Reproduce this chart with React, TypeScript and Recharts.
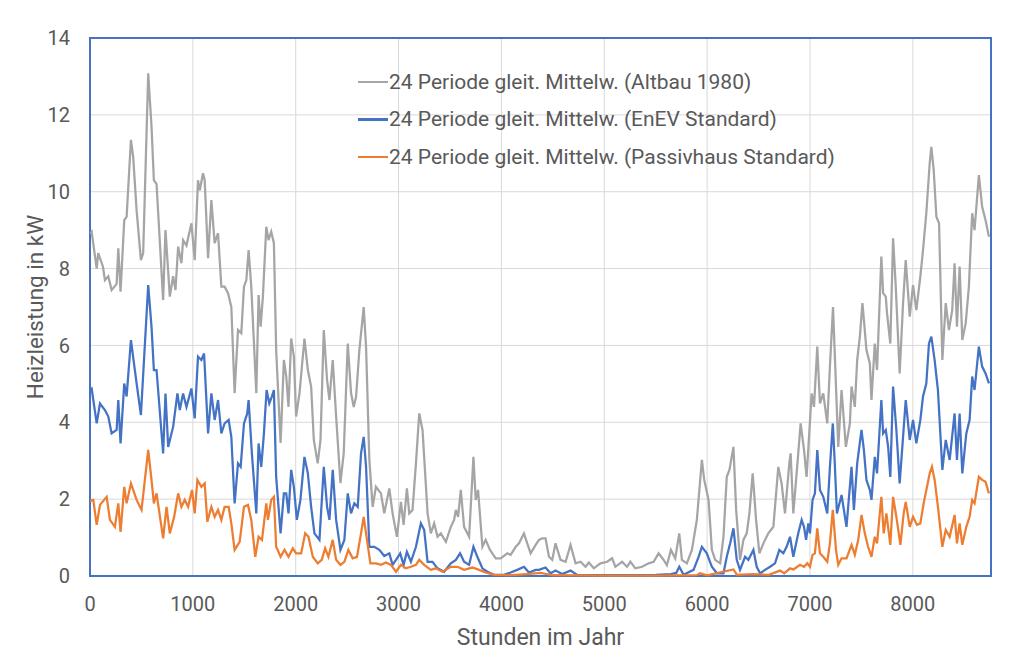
import React from 'react';
import { LineChart, Line, XAxis, YAxis, CartesianGrid, Legend, ReferenceArea } from 'recharts';

const altbau: [number, number][] = [
  [0, 8.9], [16, 8.96], [65, 8.0], [80, 8.4], [126, 8.05], [145, 7.7], [178, 7.8], [210, 7.44], [259, 7.6], [275, 8.53],
  [297, 7.4], [333, 9.26], [356, 9.35], [398, 11.35], [420, 10.9], [453, 9.52], [495, 8.22], [517, 8.4], [566, 13.08], [598, 11.7],
  [621, 10.3], [647, 10.2], [711, 7.18], [734, 9.0], [776, 7.27], [808, 7.8], [831, 7.44], [857, 8.57], [889, 8.14], [905, 8.74],
  [938, 8.6], [986, 9.18], [1018, 8.22], [1050, 10.3], [1067, 10.04], [1099, 10.48], [1115, 10.3], [1148, 8.27], [1180, 9.78], [1212, 8.66],
  [1245, 8.92], [1277, 7.53], [1309, 7.53], [1342, 7.36], [1374, 7.0], [1406, 4.76], [1439, 6.4], [1471, 6.32], [1497, 7.53], [1520, 7.7],
  [1542, 8.48], [1568, 7.53], [1617, 4.76], [1639, 7.31], [1659, 6.49], [1681, 7.27], [1714, 9.09], [1736, 8.74], [1762, 8.96], [1788, 8.66],
  [1810, 5.88], [1853, 3.46], [1885, 5.62], [1908, 5.19], [1930, 4.4], [1956, 6.18], [1982, 5.71], [2004, 4.15], [2037, 4.76], [2085, 6.18],
  [2118, 5.36], [2150, 4.93], [2176, 3.54], [2214, 2.93], [2241, 3.54], [2273, 6.4], [2305, 5.1], [2328, 4.58], [2360, 5.62], [2393, 4.15],
  [2435, 2.42], [2467, 3.2], [2506, 6.05], [2538, 4.76], [2564, 4.4], [2587, 4.67], [2619, 5.88], [2661, 7.0], [2684, 5.97], [2716, 3.02],
  [2748, 1.8], [2780, 2.32], [2829, 2.15], [2861, 1.63], [2910, 2.28], [2942, 1.63], [2984, 1.02], [3023, 1.93], [3049, 1.33], [3081, 2.28],
  [3104, 1.63], [3136, 1.72], [3169, 2.93], [3201, 4.23], [3233, 3.8], [3282, 1.63], [3314, 1.11], [3346, 1.37], [3379, 1.02], [3411, 1.11],
  [3460, 0.89], [3508, 1.28], [3540, 1.46], [3557, 1.72], [3579, 1.54], [3605, 2.24], [3637, 1.28], [3686, 1.02], [3728, 3.1], [3750, 1.98],
  [3773, 2.24], [3815, 0.76], [3847, 0.94], [3889, 0.68], [3945, 0.46], [3993, 0.46], [4057, 0.59], [4090, 0.55], [4139, 0.76], [4171, 0.85],
  [4219, 1.11], [4251, 0.85], [4284, 0.59], [4333, 0.81], [4365, 0.94], [4397, 0.98], [4429, 0.98], [4462, 0.5], [4494, 0.42], [4526, 0.85],
  [4575, 0.42], [4624, 0.37], [4672, 0.81], [4721, 0.33], [4769, 0.37], [4818, 0.24], [4850, 0.35], [4898, 0.2], [4963, 0.33], [5028, 0.37],
  [5076, 0.46], [5108, 0.24], [5173, 0.37], [5221, 0.24], [5254, 0.37], [5302, 0.2], [5367, 0.24], [5431, 0.33], [5480, 0.37], [5528, 0.59],
  [5577, 0.42], [5609, 0.28], [5648, 0.68], [5690, 0.46], [5729, 1.11], [5755, 0.42], [5803, 0.33], [5852, 0.68], [5900, 1.46], [5949, 3.02],
  [5972, 2.5], [6014, 1.98], [6046, 0.68], [6078, 0.42], [6127, 0.33], [6159, 1.02], [6191, 2.58], [6217, 2.76], [6256, 3.36], [6282, 1.72],
  [6320, 0.42], [6353, 0.94], [6385, 1.11], [6411, 1.63], [6443, 2.67], [6476, 1.46], [6508, 0.59], [6547, 0.85], [6595, 1.11], [6644, 1.28],
  [6692, 2.84], [6724, 2.41], [6757, 1.63], [6799, 2.93], [6812, 3.19], [6838, 1.63], [6886, 3.19], [6909, 3.97], [6942, 3.28], [6967, 2.58],
  [6993, 3.71], [7016, 4.75], [7039, 4.4], [7071, 5.97], [7097, 4.49], [7129, 4.75], [7168, 3.97], [7194, 5.45], [7224, 7.0], [7245, 5.5],
  [7275, 3.36], [7307, 4.84], [7349, 3.36], [7388, 3.97], [7404, 4.93], [7436, 4.4], [7459, 5.62], [7485, 6.23], [7510, 7.1], [7527, 6.58],
  [7549, 5.88], [7582, 5.53], [7598, 4.58], [7630, 6.05], [7652, 5.36], [7694, 8.31], [7711, 7.36], [7737, 7.27], [7749, 6.84], [7781, 6.05],
  [7808, 8.79], [7834, 7.53], [7872, 5.27], [7905, 7.1], [7931, 8.22], [7970, 6.75], [8002, 7.57], [8034, 6.92], [8073, 7.79], [8099, 8.48],
  [8131, 9.44], [8164, 10.74], [8180, 11.17], [8203, 10.56], [8229, 9.35], [8255, 9.18], [8287, 5.62], [8320, 7.1], [8351, 6.4], [8383, 6.92],
  [8406, 8.14], [8429, 6.49], [8455, 8.05], [8481, 6.14], [8514, 6.58], [8545, 7.53], [8577, 9.44], [8600, 9.0], [8642, 10.43], [8674, 9.61],
  [8707, 9.26], [8740, 8.83],
];

const enev: [number, number][] = [
  [0, 4.85], [16, 4.88], [65, 3.97], [97, 4.49], [145, 4.32], [178, 4.15], [210, 3.71], [259, 3.8], [275, 4.58], [297, 3.45],
  [333, 5.01], [356, 4.67], [398, 6.14], [453, 5.01], [495, 4.19], [566, 7.57], [598, 6.49], [621, 5.36], [647, 5.36], [711, 3.19],
  [734, 4.75], [760, 3.36], [808, 3.88], [850, 4.75], [873, 4.32], [905, 4.75], [938, 4.4], [986, 4.88], [1018, 4.1], [1050, 5.71],
  [1083, 5.62], [1109, 5.79], [1148, 3.71], [1180, 4.75], [1212, 4.06], [1245, 4.58], [1277, 3.71], [1309, 3.97], [1348, 4.06], [1374, 3.62],
  [1406, 1.89], [1439, 2.93], [1465, 2.84], [1497, 3.97], [1529, 4.23], [1542, 4.58], [1574, 3.19], [1617, 1.63], [1639, 3.45], [1665, 2.84],
  [1691, 3.71], [1717, 4.84], [1743, 4.49], [1768, 4.67], [1788, 4.84], [1810, 2.58], [1853, 1.11], [1885, 2.15], [1908, 2.15], [1930, 1.63],
  [1956, 2.76], [1982, 2.32], [2011, 1.46], [2046, 1.98], [2085, 3.1], [2118, 2.67], [2150, 1.8], [2182, 1.11], [2231, 0.94], [2273, 2.84],
  [2305, 1.8], [2328, 1.46], [2360, 2.76], [2393, 1.46], [2435, 0.68], [2473, 0.94], [2506, 2.15], [2538, 1.63], [2570, 1.89], [2603, 1.8],
  [2635, 3.19], [2661, 3.62], [2684, 2.84], [2716, 0.76], [2764, 0.76], [2813, 0.68], [2861, 0.52], [2910, 0.59], [2942, 0.29], [2975, 0.42],
  [3016, 0.59], [3049, 0.29], [3081, 0.63], [3120, 0.37], [3169, 0.76], [3217, 1.37], [3249, 1.2], [3282, 0.37], [3330, 0.37], [3379, 0.2],
  [3443, 0.11], [3508, 0.33], [3557, 0.42], [3598, 0.59], [3637, 0.37], [3686, 0.29], [3728, 0.76], [3766, 0.5], [3815, 0.2], [3863, 0.11],
  [3928, 0.03], [4025, 0.03], [4090, 0.09], [4154, 0.16], [4219, 0.24], [4268, 0.09], [4333, 0.16], [4365, 0.16], [4429, 0.22], [4478, 0.07],
  [4526, 0.14], [4591, 0.05], [4672, 0.14], [4737, 0.03], [4900, 0.02], [5200, 0.02], [5500, 0.03], [5650, 0.05], [5700, 0.08], [5729, 0.24],
  [5771, 0.03], [5868, 0.16], [5917, 0.5], [5949, 0.76], [5997, 0.59], [6046, 0.24], [6095, 0.07], [6159, 0.07], [6191, 0.5], [6224, 0.85],
  [6256, 1.24], [6288, 0.42], [6320, 0.16], [6369, 0.5], [6401, 0.42], [6450, 0.68], [6482, 0.24], [6515, 0.07], [6563, 0.16], [6612, 0.24],
  [6660, 0.33], [6702, 0.68], [6741, 0.59], [6773, 0.76], [6806, 1.02], [6838, 0.5], [6886, 1.11], [6919, 1.46], [6942, 1.28], [6962, 0.94],
  [6984, 1.37], [7000, 1.11], [7025, 1.98], [7048, 2.15], [7071, 3.28], [7097, 2.24], [7129, 2.06], [7168, 1.63], [7194, 2.84], [7222, 3.97],
  [7240, 3.0], [7262, 1.63], [7307, 2.11], [7355, 1.28], [7404, 2.84], [7427, 1.72], [7459, 2.93], [7501, 3.8], [7524, 3.28], [7549, 2.5],
  [7582, 2.24], [7598, 1.98], [7630, 3.1], [7652, 2.67], [7694, 4.58], [7711, 3.71], [7737, 3.8], [7760, 3.36], [7781, 2.58], [7808, 4.93],
  [7840, 3.8], [7872, 2.41], [7905, 3.62], [7931, 4.58], [7970, 3.54], [8002, 4.06], [8034, 3.45], [8073, 4.06], [8099, 4.67], [8131, 5.01],
  [8157, 6.05], [8180, 6.23], [8212, 5.62], [8244, 4.84], [8287, 2.76], [8320, 3.54], [8358, 3.02], [8406, 4.23], [8429, 3.02], [8455, 4.23],
  [8481, 2.67], [8520, 3.71], [8552, 4.06], [8577, 5.19], [8600, 4.84], [8642, 5.97], [8674, 5.45], [8707, 5.27], [8740, 5.01],
];

const passivhaus: [number, number][] = [
  [0, 1.95], [32, 1.98], [65, 1.33], [97, 1.85], [162, 2.06], [194, 1.46], [242, 1.28], [275, 1.89], [297, 1.15], [333, 2.32],
  [356, 1.89], [398, 2.41], [453, 1.98], [501, 1.72], [566, 3.28], [598, 2.5], [621, 1.89], [647, 2.15], [711, 0.98], [744, 1.8],
  [776, 1.11], [818, 1.54], [857, 2.15], [889, 1.8], [921, 1.98], [954, 1.8], [992, 2.24], [1018, 1.63], [1044, 2.5], [1083, 2.32],
  [1115, 2.41], [1141, 1.41], [1180, 1.8], [1212, 1.54], [1245, 1.72], [1277, 1.46], [1309, 1.8], [1348, 1.8], [1374, 1.37], [1406, 0.68],
  [1455, 0.89], [1497, 1.8], [1536, 1.85], [1568, 1.46], [1607, 0.5], [1639, 1.02], [1672, 0.94], [1714, 1.89], [1730, 1.46], [1762, 1.98],
  [1788, 2.06], [1810, 0.76], [1853, 0.5], [1891, 0.68], [1930, 0.5], [1972, 0.72], [2004, 0.59], [2053, 0.59], [2092, 1.11], [2124, 1.02],
  [2166, 0.5], [2214, 0.33], [2253, 0.42], [2286, 0.72], [2318, 0.5], [2360, 0.94], [2393, 0.42], [2435, 0.29], [2473, 0.37], [2512, 0.68],
  [2554, 0.46], [2596, 0.5], [2635, 1.11], [2661, 1.54], [2693, 0.94], [2726, 0.33], [2780, 0.33], [2829, 0.29], [2877, 0.35], [2926, 0.29],
  [2975, 0.11], [3023, 0.29], [3071, 0.2], [3120, 0.24], [3169, 0.29], [3201, 0.42], [3249, 0.29], [3314, 0.16], [3363, 0.2], [3427, 0.11],
  [3508, 0.24], [3572, 0.24], [3637, 0.16], [3718, 0.22], [3783, 0.16], [3847, 0.09], [3928, 0.03], [4100, 0.02], [4250, 0.05], [4380, 0.08],
  [4500, 0.02], [5000, 0.01], [5500, 0.01], [5900, 0.02], [5930, 0.07], [6000, 0.02], [6256, 0.17], [6290, 0.03], [6450, 0.05], [6600, 0.03],
  [6708, 0.14], [6750, 0.07], [6806, 0.2], [6840, 0.17], [6903, 0.29], [6942, 0.24], [6974, 0.33], [7000, 0.24], [7025, 0.55], [7048, 0.59],
  [7071, 1.24], [7097, 0.59], [7129, 0.5], [7168, 0.37], [7194, 0.85], [7222, 1.72], [7253, 0.68], [7275, 0.29], [7307, 0.46], [7355, 0.46],
  [7404, 0.81], [7436, 0.55], [7469, 0.94], [7501, 1.59], [7533, 1.11], [7565, 0.76], [7598, 0.5], [7630, 1.02], [7652, 0.85], [7694, 2.06],
  [7717, 1.11], [7743, 1.63], [7781, 0.81], [7808, 2.06], [7840, 1.54], [7879, 0.81], [7911, 1.63], [7931, 1.93], [7970, 1.28], [8002, 1.54],
  [8040, 1.33], [8073, 1.37], [8105, 1.89], [8138, 2.32], [8164, 2.67], [8186, 2.84], [8212, 2.5], [8244, 1.8], [8287, 0.76], [8320, 1.2],
  [8358, 1.02], [8406, 1.59], [8429, 0.85], [8455, 1.37], [8481, 0.81], [8520, 1.28], [8552, 1.54], [8577, 1.98], [8600, 1.89], [8642, 2.58],
  [8674, 2.5], [8707, 2.45], [8740, 2.15],
];

const seriesNames = [
  '24 Periode gleit. Mittelw. (Altbau 1980)',
  '24 Periode gleit. Mittelw. (EnEV Standard)',
  '24 Periode gleit. Mittelw. (Passivhaus Standard)',
];
const xTicks = [0, 1000, 2000, 3000, 4000, 5000, 6000, 7000, 8000];
const yTicks = [0, 2, 4, 6, 8, 10, 12, 14];

const toRows = (pts: [number, number][]) => pts.map(([h, kw]) => ({ h, kw }));

const FONT = 'Roboto, "Noto Sans", sans-serif';
const TEXT = '#595959';

const renderLegend = (props: any) => {
  const { payload } = props;
  return (
    <div style={{ fontFamily: FONT, fontSize: 21, color: TEXT, whiteSpace: 'nowrap' }}>
      {(payload || []).map((entry: any) => (
        <div key={entry.value} style={{ display: 'flex', alignItems: 'center', height: 37.5 }}>
          <span style={{ display: 'inline-block', width: 30, height: 2.5, background: entry.color, marginRight: 1 }} />
          <span>{entry.value}</span>
        </div>
      ))}
    </div>
  );
};

export default function App() {
  return (
    <div style={{ position: 'relative', width: 1005, height: 645 }}>
      {/* outer chart frame */}
      <div style={{ position: 'absolute', left: -2, top: -2, width: 1004, height: 650, borderLeft: '1px solid #d9d9d9', borderTop: '1px solid #d9d9d9' }} />
      <LineChart width={1005} height={645} margin={{ top: 30, right: 22, bottom: 2, left: 0 }}>
        <CartesianGrid stroke="#d9d9d9" strokeWidth={1} />
        <XAxis
          type="number"
          dataKey="h"
          domain={[0, 8760]}
          ticks={xTicks}
          allowDataOverflow
          axisLine={false}
          tickLine={false}
          tickSize={0}
          tickMargin={21}
          height={75}
          tick={{ fill: TEXT, fontSize: 20, fontFamily: FONT }}
          label={{ value: 'Stunden im Jahr', position: 'insideBottom', offset: 6, fill: TEXT, fontSize: 23, fontFamily: FONT }}
        />
        <YAxis
          type="number"
          domain={[0, 14]}
          ticks={yTicks}
          axisLine={false}
          tickLine={false}
          tickSize={0}
          tickMargin={20}
          width={82}
          tick={{ fill: TEXT, fontSize: 20, fontFamily: FONT }}
          label={{ value: 'Heizleistung in kW', angle: -90, position: 'insideLeft', offset: 27, fill: TEXT, fontSize: 22.5, fontFamily: FONT, style: { textAnchor: 'middle' } }}
        />
        <Legend
          layout="vertical"
          align="center"
          verticalAlign="middle"
          content={renderLegend}
          wrapperStyle={{ left: 350, top: 55, width: 560 }}
        />
        <Line data={toRows(altbau)} dataKey="kw" name={seriesNames[0]} stroke="#A5A5A5" strokeWidth={2.25} dot={false} isAnimationActive={false} />
        <Line data={toRows(enev)} dataKey="kw" name={seriesNames[1]} stroke="#4472C4" strokeWidth={2.25} dot={false} isAnimationActive={false} />
        <Line data={toRows(passivhaus)} dataKey="kw" name={seriesNames[2]} stroke="#ED7D31" strokeWidth={2.25} dot={false} isAnimationActive={false} />
        <ReferenceArea x1={0} x2={8760} y1={0} y2={14} fill="none" stroke="#4472C4" strokeWidth={2} ifOverflow="visible" />
      </LineChart>
    </div>
  );
}
